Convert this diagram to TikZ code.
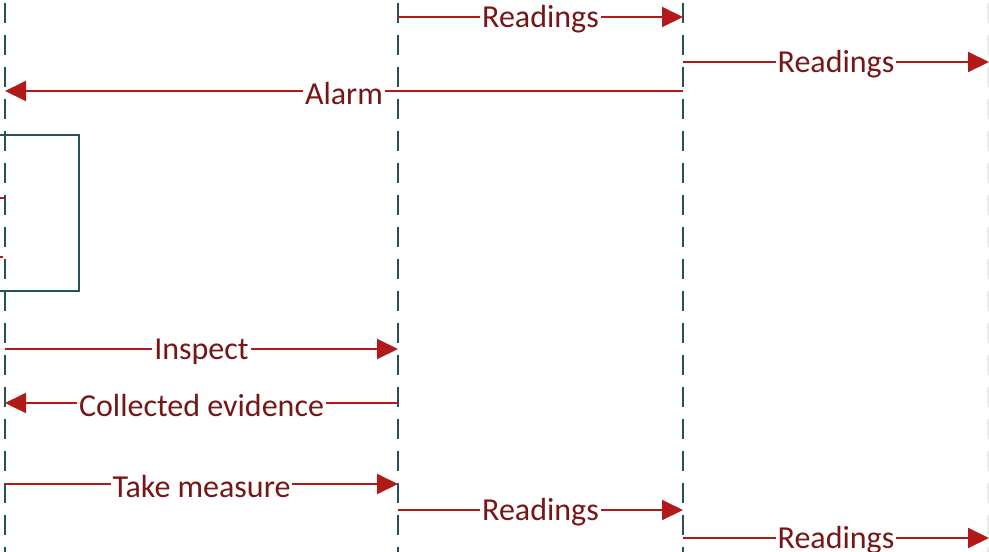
\documentclass[tikz,border=0pt]{standalone}
\usepackage{fontspec}
\setmainfont{Carlito}
\usetikzlibrary{arrows.meta}
\definecolor{life}{RGB}{38,84,86}
\definecolor{msg}{RGB}{178,26,26}
\definecolor{msgtxt}{RGB}{118,22,22}
\definecolor{faint}{RGB}{236,236,236}
\tikzset{
  lifeline/.style={draw=life,line width=2.3pt,dash pattern=on 20pt off 12pt,dash phase=-3pt},
  faintline/.style={draw=faint,line width=1.5pt,dash pattern=on 20pt off 12pt,dash phase=-3pt},
  message/.style={draw=msg,line width=2pt,-{Triangle[length=21pt,width=20pt]}},
  msglabel/.style={fill=white,text=msgtxt,inner sep=2pt,yshift=-2.5pt,font=\fontsize{32}{38}\selectfont},
  actbox/.style={draw=life,line width=2.3pt}
}
\begin{document}
\begin{tikzpicture}[x=1pt,y=-1pt]
\useasboundingbox (0,0) rectangle (989,552);
% lifelines
\coordinate (A0) at (5,0);   \coordinate (A1) at (5,552);
\coordinate (B0) at (398,0); \coordinate (B1) at (398,552);
\coordinate (C0) at (683,0); \coordinate (C1) at (683,552);
\coordinate (D0) at (988,0); \coordinate (D1) at (988,552);
\draw[lifeline] (A0) -- (A1);
\draw[lifeline] (B0) -- (B1);
\draw[lifeline] (C0) -- (C1);
\draw[faintline] (D0) -- (D1);
% activation box
\node[actbox,minimum width=90pt,minimum height=156pt,inner sep=0pt] (act) at (34,213) {};
% small incoming ticks
\coordinate (t1a) at (0,198); \coordinate (t1b) at (5,198);
\coordinate (t2a) at (0,257); \coordinate (t2b) at (3,257);
\draw[draw=msg,line width=2.5pt] (t1a) -- (t1b);
\draw[draw=msg,line width=1.5pt] (t2a) -- (t2b);
% message end points
\coordinate (m1s) at (398,17);  \coordinate (m1e) at (683,17);
\coordinate (m2s) at (683,62);  \coordinate (m2e) at (989,62);
\coordinate (m3s) at (683,91);  \coordinate (m3e) at (5,91);
\coordinate (m4s) at (5,349);   \coordinate (m4e) at (398,349);
\coordinate (m5s) at (398,403); \coordinate (m5e) at (5,403);
\coordinate (m6s) at (5,484);   \coordinate (m6e) at (398,484);
\coordinate (m7s) at (398,510); \coordinate (m7e) at (683,510);
\coordinate (m8s) at (683,538); \coordinate (m8e) at (989,538);
\draw[message] (m1s) -- node[msglabel,pos=0.5] (l1) {Readings} (m1e);
\draw[message] (m2s) -- node[msglabel,pos=0.5] (l2) {Readings} (m2e);
\draw[message] (m3s) -- node[msglabel,pos=0.5] (l3) {Alarm} (m3e);
\draw[message] (m4s) -- node[msglabel,pos=0.5] (l4) {Inspect} (m4e);
\draw[message] (m5s) -- node[msglabel,pos=0.5] (l5) {Collected evidence} (m5e);
\draw[message] (m6s) -- node[msglabel,pos=0.5] (l6) {Take measure} (m6e);
\draw[message] (m7s) -- node[msglabel,pos=0.5] (l7) {Readings} (m7e);
\draw[message] (m8s) -- node[msglabel,pos=0.5] (l8) {Readings} (m8e);
\end{tikzpicture}
\end{document}
